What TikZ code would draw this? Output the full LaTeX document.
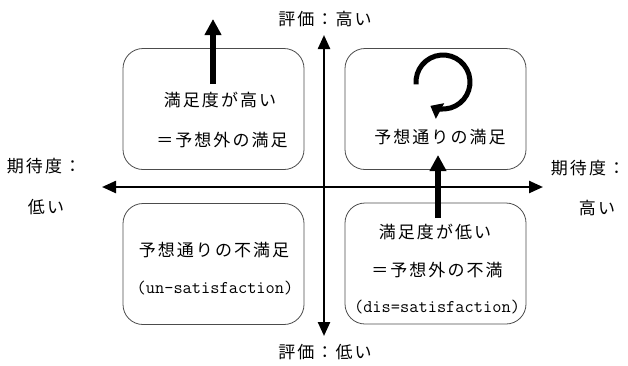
\documentclass[tikz,border=0pt]{standalone}
\usepackage{fontspec}
\newfontfamily\jp[LetterSpace=12]{Noto Sans CJK JP}
\usetikzlibrary{arrows.meta}
\begin{document}
\begin{tikzpicture}[x=1pt,y=-1pt,
  box/.style={draw=black!70, line width=0.8pt, rounded corners=20pt, minimum width=181pt, minimum height=121pt, inner sep=0pt},
  jt/.style={font=\jp\fontsize{17}{19}\selectfont, inner sep=0pt},
  mt/.style={font=\ttfamily\fontsize{17.9}{20}\selectfont, inner sep=0pt},
  axis/.style={line width=2.4pt, {Triangle[length=14pt,width=12pt]}-{Triangle[length=14pt,width=12pt]}},
  big/.style={line width=6pt, -{Triangle[length=16pt,width=16pt]}},
  loop/.style={line width=5pt, -{Triangle[length=11pt,width=17pt]}}]
\useasboundingbox (0,0) rectangle (628,365);
% boxes
\node[box] (tl) at (213.5,109) {};
\node[box] (tr) at (435.5,109) {};
\node[box] (bl) at (213.5,264) {};
\node[box] (br) at (435.5,263.5) {};
% axes
\coordinate (vtop) at (324,35);
\coordinate (vbot) at (324,336);
\coordinate (hl) at (102,187);
\coordinate (hr) at (543,187);
\draw[axis] (vbot) -- (vtop);
\draw[axis] (hl) -- (hr);
% thick arrows
\coordinate (a1s) at (213,84);
\coordinate (a1e) at (213,19);
\draw[big] (a1s) -- (a1e);
\coordinate (a2s) at (438,218);
\coordinate (a2e) at (438,155);
\draw[big] (a2s) -- (a2e);
% circular arrow
\coordinate (cc) at (443,82);
\draw[loop] (cc) ++(175:27) arc[start angle=175, end angle=478, radius=27];
% texts
\node[jt] (t1) at (220,100) {満足度が高い};
\node[jt] (t2) at (222,140) {＝予想外の満足};
\node[jt] (t3) at (440,137) {予想通りの満足};
\node[jt] (t4) at (214,250) {予想通りの不満足};
\node[mt] (t5) at (215,288) {(un-satisfaction)};
\node[jt] (t6) at (435,232) {満足度が低い};
\node[jt] (t7) at (437,270) {＝予想外の不満};
\node[mt] (t8) at (437,307) {(dis=satisfaction)};
\node[jt] (top) at (325,19) {評価：高い};
\node[jt] (bot) at (325,352) {評価：低い};
\node[jt] (l1) at (44,166) {期待度：};
\node[jt] (l2) at (46,207) {低い};
\node[jt] (r1) at (588,168) {期待度：};
\node[jt] (r2) at (597,208) {高い};
\end{tikzpicture}
\end{document}
